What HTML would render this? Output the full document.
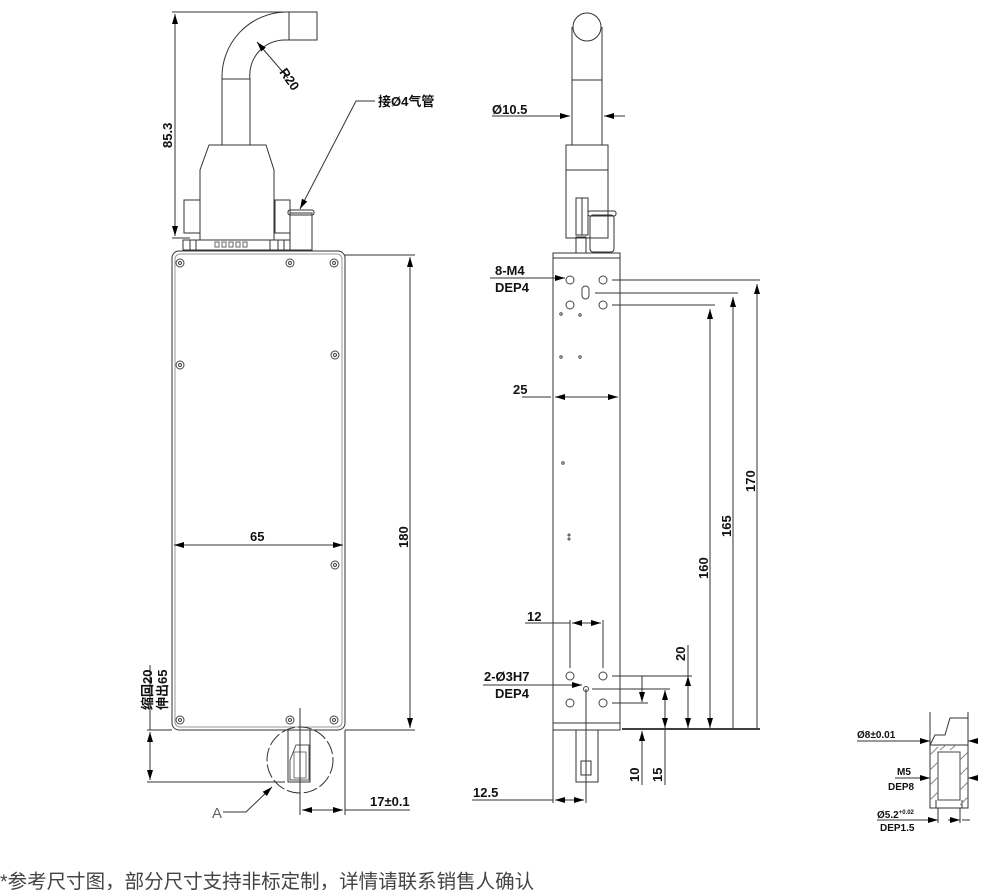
<!DOCTYPE html>
<html><head><meta charset="utf-8"><style>
body{margin:0;background:#fff}
svg{display:block}
text{font-family:"Liberation Sans","Noto Sans CJK SC",sans-serif;fill:#111}
</style></head><body>
<svg width="1000" height="890" viewBox="0 0 1000 890" xmlns="http://www.w3.org/2000/svg">
<defs>
<marker id="a" viewBox="0 0 10 6" refX="10" refY="3" markerWidth="10" markerHeight="6" orient="auto-start-reverse" markerUnits="userSpaceOnUse"><path d="M0,0L10,3L0,6z" fill="#000"/></marker>
</defs>
<g fill="none" stroke="#333" stroke-width="1">
<rect x="172" y="251" width="173" height="479" rx="7"/>
<rect x="175" y="254" width="167" height="473" rx="5" stroke="#999"/>
<g stroke="#444">
<circle cx="180" cy="263" r="4"/><circle cx="180" cy="263" r="1.5"/>
<circle cx="290" cy="263" r="4"/><circle cx="290" cy="263" r="1.5"/>
<circle cx="334" cy="263" r="4"/><circle cx="334" cy="263" r="1.5"/>
<circle cx="180" cy="365" r="4"/><circle cx="180" cy="365" r="1.5"/>
<circle cx="335" cy="355" r="4"/><circle cx="335" cy="355" r="1.5"/>
<circle cx="335" cy="565" r="4"/><circle cx="335" cy="565" r="1.5"/>
<circle cx="180" cy="720" r="4"/><circle cx="180" cy="720" r="1.5"/>
<circle cx="290" cy="720" r="4"/><circle cx="290" cy="720" r="1.5"/>
<circle cx="334" cy="720" r="4"/><circle cx="334" cy="720" r="1.5"/>
</g>
<rect x="183" y="240" width="107" height="10"/>
<path d="M190 240v10M196 240v10M270 240v10M278 240v10M284 240v10"/>
<g stroke="#666"><rect x="215" y="242" width="4" height="5"/><rect x="222" y="242" width="4" height="5"/><rect x="229" y="242" width="4" height="5"/><rect x="236" y="242" width="4" height="5"/><rect x="243" y="242" width="4" height="5"/></g>
<rect x="184" y="200" width="16" height="33"/>
<rect x="275" y="200" width="15" height="33"/>
<path d="M209 145H266L274 170V240H200V170Z"/>
<path d="M222 145V79H250V145"/>
<path d="M222 79A65 65 0 0 1 285 12H317V40H285A35 35 0 0 0 250 79"/>
<path d="M289 12V40"/>
<rect x="290" y="213" width="22" height="37"/>
<rect x="288" y="210" width="26" height="5" rx="2"/>
<path d="M172 12H285M172 238H190"/>
<path d="M175 14V236" marker-start="url(#a)" marker-end="url(#a)"/>
<path d="M288 78L257 42" marker-end="url(#a)"/>
<path d="M375 101H356L300 209" marker-end="url(#a)"/>
<path d="M345 255H415M345 730H415"/>
<path d="M410 257V728" marker-start="url(#a)" marker-end="url(#a)"/>
<path d="M174 545H343" marker-start="url(#a)" marker-end="url(#a)"/>
<path d="M147 730H172"/>
<path d="M150 732V780" marker-start="url(#a)" marker-end="url(#a)"/>
<path d="M147 782H285"/>
<path d="M150 665V730"/>
<circle cx="300" cy="760" r="33" stroke-dasharray="14 3"/>
<path d="M288 730V782H310V730"/>
<path d="M290 760L296 745H309V780H290Z" stroke="#555"/>
<path d="M294 752H306V778H294Z" stroke="#777"/>
<path d="M300 708V815M345 730V815"/>
<path d="M302 810H343" marker-start="url(#a)" marker-end="url(#a)"/>
<path d="M345 810H410"/>
<path d="M223 812H246L272 787" marker-end="url(#a)"/>
<rect x="553" y="253" width="67" height="477"/>
<path d="M553 258H620M553 723H620"/>
<path d="M572 145V27M602 145V27"/>
<circle cx="587" cy="27" r="14"/>
<path d="M572 80H602"/>
<rect x="566" y="145" width="42" height="93"/>
<path d="M566 170H608"/>
<rect x="576" y="198" width="12" height="37"/><path d="M582 198V235"/>
<rect x="576" y="237" width="10" height="16"/>
<rect x="590" y="215" width="24" height="37" rx="3"/>
<rect x="588" y="211" width="28" height="5" rx="2"/>
<g stroke="#444">
<circle cx="570" cy="280" r="4"/><circle cx="603" cy="280" r="4"/>
<circle cx="570" cy="305" r="4"/><circle cx="603" cy="305" r="4"/>
<rect x="582" y="286" width="7" height="13" rx="3.5"/>
<circle cx="561" cy="314" r="1.2"/><circle cx="580" cy="315" r="1.2"/>
<circle cx="561" cy="357" r="1.2"/><circle cx="580" cy="357" r="1.2"/>
<circle cx="563" cy="463" r="1.2"/><circle cx="569" cy="535" r="1"/><circle cx="569" cy="539" r="1"/>
<circle cx="570" cy="676" r="4"/><circle cx="603" cy="676" r="4"/>
<circle cx="570" cy="703" r="4"/><circle cx="603" cy="703" r="4"/>
<circle cx="586" cy="689" r="2.5"/>
</g>
<path d="M576 730V782H598V730"/>
<rect x="581" y="761" width="10" height="14"/>
<path d="M612 280H760M595 293H738M612 305H715"/>
<path d="M757 284V728" marker-start="url(#a)"/>
<path d="M733 297V728" marker-start="url(#a)"/>
<path d="M710 309V728" marker-start="url(#a)"/>
<path d="M622 729H760" stroke="#000" stroke-width="1.5"/>
<path d="M757 710V728M733 710V728M710 710V728" marker-end="url(#a)"/>
<path d="M612 676H692M592 689H670M612 703H648"/>
<path d="M688 645V728" marker-end="url(#a)"/><path d="M688 676V690" marker-start="url(#a)"/>
<path d="M665 690V785" marker-start="url(#a)"/><path d="M665 710V728" marker-end="url(#a)"/>
<path d="M642 676V702" marker-end="url(#a)"/><path d="M642 731V785" marker-start="url(#a)"/>
<path d="M522 397H551" /><path d="M555 397H618" marker-start="url(#a)" marker-end="url(#a)"/>
<path d="M525 623H570"/><path d="M572 623H601" marker-start="url(#a)" marker-end="url(#a)"/>
<path d="M570 620V668M603 620V668"/>
<path d="M553 730V803M586 689V803"/>
<path d="M472 800H553"/><path d="M555 800H584" marker-start="url(#a)" marker-end="url(#a)"/>
<path d="M490 278H565" marker-end="url(#a)"/>
<path d="M483 685H582" marker-end="url(#a)"/>
<path d="M492 116H570" marker-end="url(#a)"/>
<path d="M625 116H604" marker-end="url(#a)"/>
<path d="M930 712V808H968V712"/>
<path d="M930 745H968"/>
<path d="M930 745L935 735H945L950 718H968" />
<path d="M938 752H960V800H938Z" stroke="#444"/>
<path d="M936 800V808M962 800V808"/>
<g stroke="#888">
<path d="M930 755L938 747M930 770L938 762M930 785L938 777M930 800L938 792M960 760L968 752M960 775L968 767M960 790L968 782M960 805L968 797M940 750L946 745M950 750L956 745"/>
</g>
<path d="M857 741H930" marker-end="url(#a)"/><path d="M975 741H968" marker-end="url(#a)"/>
<path d="M895 778H930" marker-end="url(#a)"/><path d="M975 778H968" marker-end="url(#a)"/>
<path d="M877 820H938" marker-end="url(#a)"/><path d="M962 820H970"/><path d="M948 820H960" marker-end="url(#a)"/>
<path d="M938 808V823M960 808V823"/>
</g>
<g font-size="13" font-weight="bold">
<text x="279" y="72" transform="rotate(55 279 72)">R20</text>
<text x="378" y="106">接Ø4气管</text>
<text x="172" y="148" transform="rotate(-90 172 148)">85.3</text>
<text x="408" y="548" transform="rotate(-90 408 548)">180</text>
<text x="250" y="541">65</text>
<text x="152" y="710" transform="rotate(-90 152 710)">缩回20</text>
<text x="167" y="710" transform="rotate(-90 167 710)">伸出65</text>
<text x="370" y="806">17±0.1</text>
<text x="492" y="114">Ø10.5</text>
<text x="495" y="275">8-M4</text>
<text x="495" y="292">DEP4</text>
<text x="513" y="394">25</text>
<text x="755" y="492" transform="rotate(-90 755 492)">170</text>
<text x="731" y="537" transform="rotate(-90 731 537)">165</text>
<text x="708" y="579" transform="rotate(-90 708 579)">160</text>
<text x="527" y="621">12</text>
<text x="685" y="661" transform="rotate(-90 685 661)">20</text>
<text x="484" y="681">2-Ø3H7</text>
<text x="495" y="698">DEP4</text>
<text x="639" y="782" transform="rotate(-90 639 782)">10</text>
<text x="662" y="782" transform="rotate(-90 662 782)">15</text>
<text x="473" y="797">12.5</text>
<g font-size="10"><text x="857" y="738">Ø8±0.01</text>
<text x="897" y="775">M5</text><text x="888" y="790">DEP8</text>
<text x="877" y="818">Ø5.2<tspan font-size="6" dy="-4">+0.02</tspan></text>
<text x="880" y="831">DEP1.5</text></g>
</g>
<text x="212" y="818" font-size="15" style="fill:#666">A</text>
<text x="0" y="888" font-size="19.5" style="fill:#444">*参考尺寸图，部分尺寸支持非标定制，详情请联系销售人确认</text>
</svg>
</body></html>
